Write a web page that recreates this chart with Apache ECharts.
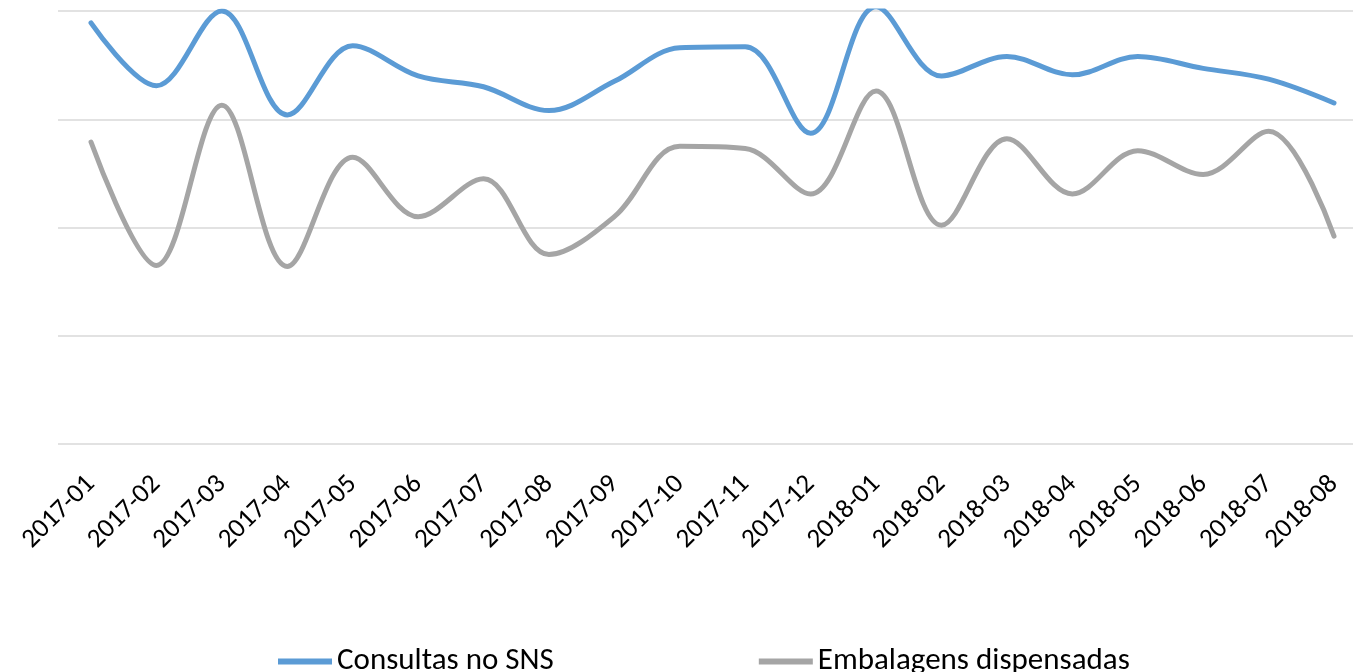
<!DOCTYPE html>
<html>
<head>
<meta charset="utf-8">
<script src="https://cdn.jsdelivr.net/npm/echarts@6/dist/echarts.min.js"></script>
<style>
  html, body { margin: 0; padding: 0; background: #fff; }
  #chart { width: 1353px; height: 672px; }
</style>
</head>
<body>
<div id="chart"></div>
<script>
const months = ['2017-01', '2017-02', '2017-03', '2017-04', '2017-05', '2017-06', '2017-07',
  '2017-08', '2017-09', '2017-10', '2017-11', '2017-12', '2018-01', '2018-02', '2018-03',
  '2018-04', '2018-05', '2018-06', '2018-07', '2018-08']

const consultas = [3.89, 3.31, 4.0, 3.04, 3.68, 3.4, 3.3, 3.08, 3.35, 3.66,
  3.67, 2.87, 4.04, 3.4, 3.58, 3.41, 3.58, 3.47, 3.37, 3.15]

const embalagens = [2.79, 1.65, 3.13, 1.64, 2.65, 2.1, 2.45, 1.75, 2.1, 2.75,
  2.73, 2.31, 3.26, 2.02, 2.82, 2.31, 2.71, 2.49, 2.89, 1.92]

const fontFam = 'Carlito, Calibri, "Open Sans", sans-serif'

const chart = echarts.init(document.getElementById('chart'))

chart.setOption({
  animation: false,
  textStyle: { fontFamily: fontFam },
  // grid 0 only carries the horizontal gridlines (they run wider than the plot)
  grid: [
    { left: 58, right: 0, top: 11, height: 433 },
    { left: 91, right: 19, top: 11, height: 433 }
  ],
  legend: {
    left: 273,
    top: 641,
    icon: 'rect',
    itemWidth: 54,
    itemHeight: 6,
    itemGap: 205,
    textStyle: { fontSize: 31, color: '#000', fontFamily: fontFam }
  },
  xAxis: [
    {
      gridIndex: 0,
      type: 'category',
      data: months,
      show: false
    },
    {
      gridIndex: 1,
      type: 'category',
      data: months,
      boundaryGap: false,
      axisLine: { show: false },
      axisTick: { show: false },
      splitLine: { show: false },
      axisLabel: {
        rotate: 45,
        interval: 0,
        margin: 36,
        fontSize: 27,
        color: '#000',
        fontFamily: fontFam
      }
    }
  ],
  yAxis: [
    {
      gridIndex: 0,
      type: 'value',
      min: 0,
      max: 4,
      interval: 1,
      axisLabel: { show: false },
      axisLine: { show: false },
      axisTick: { show: false },
      splitLine: { lineStyle: { color: '#d9d9d9', width: 1.5 } }
    },
    {
      gridIndex: 1,
      type: 'value',
      min: 0,
      max: 4,
      interval: 1,
      show: false,
      splitLine: { show: false }
    }
  ],
  series: [
    {
      name: 'Consultas no SNS',
      type: 'line',
      xAxisIndex: 1,
      yAxisIndex: 1,
      data: consultas,
      smooth: 0.35,
      showSymbol: false,
      lineStyle: { color: '#5b9bd5', width: 5, cap: 'round' },
      itemStyle: { color: '#5b9bd5' }
    },
    {
      name: 'Embalagens dispensadas',
      type: 'line',
      xAxisIndex: 1,
      yAxisIndex: 1,
      data: embalagens,
      smooth: 0.35,
      showSymbol: false,
      lineStyle: { color: '#a5a5a5', width: 5, cap: 'round' },
      itemStyle: { color: '#a5a5a5' }
    }
  ]
})
</script>
</body>
</html>
